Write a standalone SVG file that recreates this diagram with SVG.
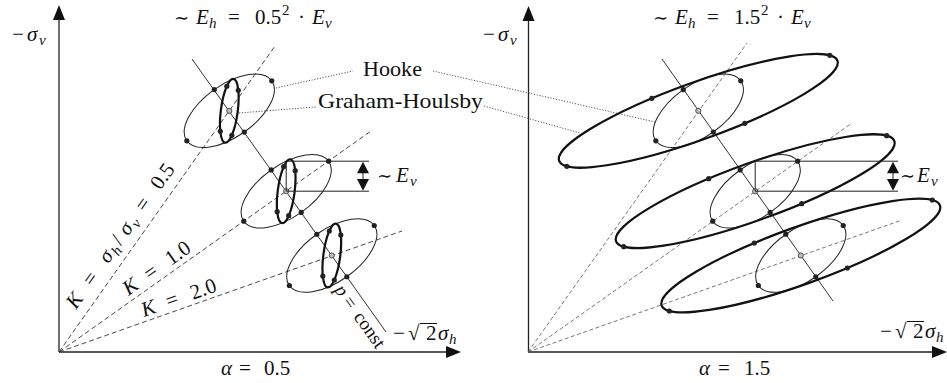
<svg xmlns="http://www.w3.org/2000/svg" width="947" height="383" viewBox="0 0 947 383" font-family="'Times New Roman', 'Liberation Serif', 'DejaVu Serif', serif">
<style>
.ax{stroke:#222;stroke-width:1.3;fill:none}
.ah{fill:#111;stroke:none}
.thin{stroke:#222;stroke-width:1;fill:none}
.thick{stroke:#111;stroke-width:2.2;fill:none}
.pl{stroke:#333;stroke-width:1;fill:none}
.dsh{stroke:#333;stroke-width:0.9;stroke-dasharray:5 3;fill:none}
.dsh2{stroke:#555;stroke-width:0.8;stroke-dasharray:4 2.5;fill:none}
.dot{fill:#222}
.cd{fill:#bbb;stroke:#333;stroke-width:0.8}
.lead{stroke:#444;stroke-width:0.9;stroke-dasharray:1.2 1.6;fill:none}
.dim{stroke:#222;stroke-width:1;fill:none}
text{font-family:'Times New Roman','Liberation Serif','DejaVu Serif',serif;font-size:21px;fill:#111}
.it{font-style:italic}
.sb{font-size:15px}
.sim{font-size:18px}
</style>

<g id="axes-left">
<line class="ax" x1="59" y1="352" x2="59" y2="18"/>
<polygon class="ah" points="59,5 53,20 65,20"/>
<line class="ax" x1="59" y1="352" x2="448" y2="352"/>
<polygon class="ah" points="461,352 446,346 446,358"/>
</g>
<g id="axes-right">
<line class="ax" x1="528.5" y1="352" x2="528.5" y2="19"/>
<polygon class="ah" points="528.5,6 522.5,21 534.5,21"/>
<line class="ax" x1="528" y1="352" x2="934" y2="352"/>
<polygon class="ah" points="947,352 932,346 932,358"/>
</g>

<g id="guides-left">
<line class="dsh" x1="59" y1="352" x2="275" y2="46"/>
<line class="dsh" x1="59" y1="352" x2="371" y2="131"/>
<line class="dsh" x1="59" y1="352" x2="402" y2="231"/>
<line class="pl" x1="192" y1="59" x2="386" y2="332"/>
</g>
<g id="guides-right">
<line class="dsh2" x1="528" y1="352" x2="747" y2="43"/>
<line class="dsh2" x1="528" y1="352" x2="852" y2="123"/>
<line class="dsh2" x1="528" y1="352" x2="902" y2="220"/>
<line class="pl" x1="662" y1="59" x2="833" y2="301"/>
</g>

<g id="left-state-1">
<ellipse class="thin" rx="52" ry="26" transform="translate(229.3 110.8) rotate(-35.26)"/>
<ellipse class="thick" rx="32.19" ry="8.44" transform="translate(229.3 110.8) rotate(-82.6)"/>
<circle class="dot" cx="271.75" cy="80.78" r="2.6"/><circle class="dot" cx="186.85" cy="140.82" r="2.6"/>
<circle class="dot" cx="244.31" cy="132.03" r="2.6"/><circle class="dot" cx="214.29" cy="89.57" r="2.6"/>
<circle class="dot" cx="238.3" cy="90.3" r="2.6"/><circle class="dot" cx="220.3" cy="131.3" r="2.6"/>
<circle class="dot" cx="231.8" cy="135.3" r="2.6"/><circle class="dot" cx="226.8" cy="86.3" r="2.6"/>
<circle class="cd" cx="229.3" cy="110.8" r="2.6"/>
</g>
<g id="left-state-2">
<ellipse class="thin" rx="52" ry="26" transform="translate(286.2 191.2) rotate(-35.26)"/>
<ellipse class="thick" rx="32.19" ry="8.44" transform="translate(286.2 191.2) rotate(-82.6)"/>
<circle class="dot" cx="328.65" cy="161.18" r="2.6"/><circle class="dot" cx="243.75" cy="221.22" r="2.6"/>
<circle class="dot" cx="301.21" cy="212.43" r="2.6"/><circle class="dot" cx="271.19" cy="169.97" r="2.6"/>
<circle class="dot" cx="295.2" cy="170.7" r="2.6"/><circle class="dot" cx="277.2" cy="211.7" r="2.6"/>
<circle class="dot" cx="288.7" cy="215.7" r="2.6"/><circle class="dot" cx="283.7" cy="166.7" r="2.6"/>
<circle class="cd" cx="286.2" cy="191.2" r="2.6"/>
</g>
<g id="left-state-3">
<ellipse class="thin" rx="52" ry="26" transform="translate(331.8 255.5) rotate(-35.26)"/>
<ellipse class="thick" rx="32.19" ry="8.44" transform="translate(331.8 255.5) rotate(-82.6)"/>
<circle class="dot" cx="374.25" cy="225.48" r="2.6"/><circle class="dot" cx="289.35" cy="285.52" r="2.6"/>
<circle class="dot" cx="346.81" cy="276.73" r="2.6"/><circle class="dot" cx="316.79" cy="234.27" r="2.6"/>
<circle class="dot" cx="340.8" cy="235" r="2.6"/><circle class="dot" cx="322.8" cy="276" r="2.6"/>
<circle class="dot" cx="334.3" cy="280" r="2.6"/><circle class="dot" cx="329.3" cy="231" r="2.6"/>
<circle class="cd" cx="331.8" cy="255.5" r="2.6"/>
</g>

<g id="right-state-1">
<ellipse class="thin" rx="52" ry="26" transform="translate(698.3 110.8) rotate(-35.26)"/>
<ellipse class="thick" rx="147.9" ry="28.56" transform="translate(698.3 110.8) rotate(-19.82)"/>
<circle class="dot" cx="740.75" cy="80.78" r="2.6"/><circle class="dot" cx="655.85" cy="140.82" r="2.6"/>
<circle class="dot" cx="713.31" cy="132.03" r="2.6"/><circle class="dot" cx="683.29" cy="89.57" r="2.6"/>
<circle class="dot" cx="829.8" cy="55.3" r="2.6"/><circle class="dot" cx="566.8" cy="166.3" r="2.6"/>
<circle class="dot" cx="744.8" cy="123.3" r="2.6"/><circle class="dot" cx="651.8" cy="98.3" r="2.6"/>
<circle class="cd" cx="698.3" cy="110.8" r="2.6"/>
</g>
<g id="right-state-2">
<ellipse class="thin" rx="52" ry="26" transform="translate(755.2 191.2) rotate(-35.26)"/>
<ellipse class="thick" rx="147.9" ry="28.56" transform="translate(755.2 191.2) rotate(-19.82)"/>
<circle class="dot" cx="797.65" cy="161.18" r="2.6"/><circle class="dot" cx="712.75" cy="221.22" r="2.6"/>
<circle class="dot" cx="770.21" cy="212.43" r="2.6"/><circle class="dot" cx="740.19" cy="169.97" r="2.6"/>
<circle class="dot" cx="886.7" cy="135.7" r="2.6"/><circle class="dot" cx="623.7" cy="246.7" r="2.6"/>
<circle class="dot" cx="801.7" cy="203.7" r="2.6"/><circle class="dot" cx="708.7" cy="178.7" r="2.6"/>
<circle class="cd" cx="755.2" cy="191.2" r="2.6"/>
</g>
<g id="right-state-3">
<ellipse class="thin" rx="52" ry="26" transform="translate(800.8 255.5) rotate(-35.26)"/>
<ellipse class="thick" rx="147.9" ry="28.56" transform="translate(800.8 255.5) rotate(-19.82)"/>
<circle class="dot" cx="843.25" cy="225.48" r="2.6"/><circle class="dot" cx="758.35" cy="285.52" r="2.6"/>
<circle class="dot" cx="815.81" cy="276.73" r="2.6"/><circle class="dot" cx="785.79" cy="234.27" r="2.6"/>
<circle class="dot" cx="932.3" cy="200" r="2.6"/><circle class="dot" cx="669.3" cy="311" r="2.6"/>
<circle class="dot" cx="847.3" cy="268" r="2.6"/><circle class="dot" cx="754.3" cy="243" r="2.6"/>
<circle class="cd" cx="800.8" cy="255.5" r="2.6"/>
</g>

<g id="dimension-left">
<polyline class="dim" points="369,161.2 286.2,161.2 286.2,191.2 369,191.2"/>
<line class="dim" x1="363" y1="170" x2="363" y2="182"/>
<polygon class="ah" points="363,161.7 357,173.3 369,173.3"/>
<polygon class="ah" points="363,190.7 357,179 369,179"/>
</g>
<g id="dimension-right">
<polyline class="dim" points="898,161.2 755.2,161.2 755.2,191.2 898,191.2"/>
<line class="dim" x1="893" y1="170" x2="893" y2="182"/>
<polygon class="ah" points="893,161.7 887,173.3 899,173.3"/>
<polygon class="ah" points="893,190.7 887,179 899,179"/>
</g>

<g id="connectors">
<line class="lead" x1="276" y1="88" x2="353" y2="71"/>
<line class="lead" x1="239" y1="113" x2="316" y2="107"/>
<line class="lead" x1="433" y1="71" x2="655" y2="122"/>
<line class="lead" x1="484" y1="106" x2="580" y2="133"/>
</g>

<g id="labels">
<text x="363" y="76" textLength="59" lengthAdjust="spacingAndGlyphs">Hooke</text>
<text x="318" y="108" textLength="165" lengthAdjust="spacingAndGlyphs">Graham-Houlsby</text>

<text y="24"><tspan x="174" class="sim">∼</tspan><tspan x="196" class="it">E</tspan><tspan x="209" y="28" class="it sb">h</tspan><tspan x="228" y="24">=</tspan><tspan x="255">0.5</tspan><tspan x="282" y="15" class="sb">2</tspan><tspan x="298" y="24">·</tspan><tspan x="312" class="it">E</tspan><tspan x="325" y="28" class="it sb">ν</tspan></text>
<text y="24"><tspan x="653" class="sim">∼</tspan><tspan x="675" class="it">E</tspan><tspan x="688" y="28" class="it sb">h</tspan><tspan x="707" y="24">=</tspan><tspan x="734">1.5</tspan><tspan x="761" y="15" class="sb">2</tspan><tspan x="777" y="24">·</tspan><tspan x="791" class="it">E</tspan><tspan x="804" y="28" class="it sb">ν</tspan></text>

<text y="41"><tspan x="12">−</tspan><tspan x="27" class="it">σ</tspan><tspan x="39" y="45" class="it sb">ν</tspan></text>
<text y="41"><tspan x="483">−</tspan><tspan x="498" class="it">σ</tspan><tspan x="510" y="45" class="it sb">ν</tspan></text>

<text y="375"><tspan x="221" class="it">α</tspan><tspan x="239">=</tspan><tspan x="264">0.5</tspan></text>
<text y="375"><tspan x="699" class="it">α</tspan><tspan x="718">=</tspan><tspan x="744">1.5</tspan></text>

<text y="340"><tspan x="393">−</tspan><tspan x="408">√</tspan><tspan x="426">2</tspan><tspan x="438" class="it">σ</tspan><tspan x="449" y="344" class="it sb">h</tspan></text>
<line x1="420" y1="323.5" x2="437" y2="323.5" stroke="#111" stroke-width="1"/>
<text y="338"><tspan x="880">−</tspan><tspan x="895">√</tspan><tspan x="913">2</tspan><tspan x="925" class="it">σ</tspan><tspan x="936" y="342" class="it sb">h</tspan></text>
<line x1="907" y1="321.5" x2="924" y2="321.5" stroke="#111" stroke-width="1"/>

<text y="182"><tspan x="377" class="sim">∼</tspan><tspan x="396" class="it">E</tspan><tspan x="410" y="186" class="it sb">ν</tspan></text>
<text y="182"><tspan x="900" class="sim">∼</tspan><tspan x="917" class="it">E</tspan><tspan x="931" y="186" class="it sb">ν</tspan></text>

<text transform="translate(76 310) rotate(-54.74)"><tspan x="0" y="0" class="it">K</tspan><tspan x="28">=</tspan><tspan x="56" class="it">σ</tspan><tspan x="68" y="4" class="it sb">h</tspan><tspan x="78" y="0">/</tspan><tspan x="90" class="it">σ</tspan><tspan x="102" y="4" class="it sb">ν</tspan><tspan x="119" y="0">=</tspan><tspan x="146">0.5</tspan></text>
<text transform="translate(128.5 296) rotate(-35.26)"><tspan x="0" class="it">K</tspan><tspan x="26">=</tspan><tspan x="52">1.0</tspan></text>
<text transform="translate(144 317) rotate(-19.47)"><tspan x="0" class="it">K</tspan><tspan x="26">=</tspan><tspan x="52">2.0</tspan></text>
<text transform="translate(334 290) rotate(54.74)" font-size="19" style="font-size:19px"><tspan x="0" class="it">p</tspan><tspan x="14">=</tspan><tspan x="33">const</tspan></text>
</g>
</svg>
